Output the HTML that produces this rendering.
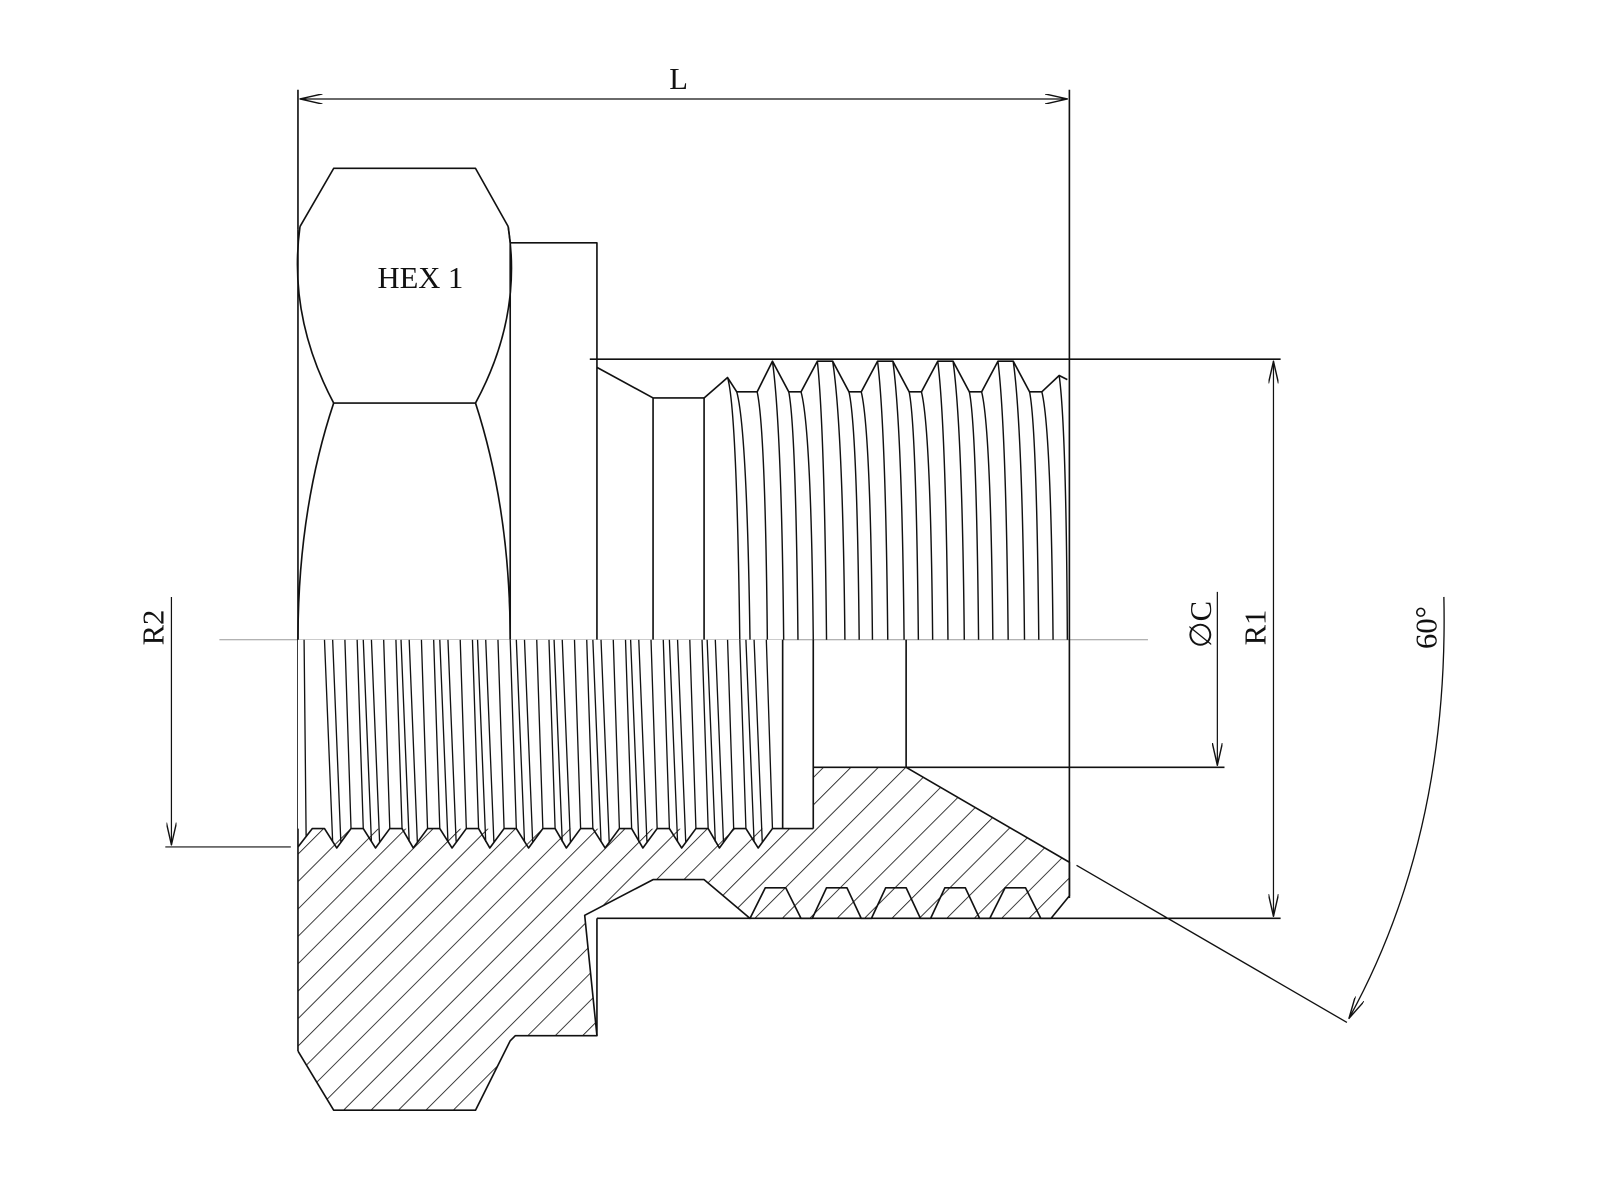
<!DOCTYPE html>
<html><head><meta charset="utf-8"><style>html,body{margin:0;padding:0;background:#fff}svg{display:block}</style></head>
<body>
<svg width="1600" height="1200" viewBox="0 0 1568 1176" xmlns="http://www.w3.org/2000/svg" font-family="'Liberation Serif', serif" fill="none" stroke="#111" stroke-width="1.6" stroke-linejoin="round">
<defs>
<pattern id="h" patternUnits="userSpaceOnUse" width="19" height="19" patternTransform="rotate(45)">
<line x1="0" y1="0" x2="0" y2="19" stroke="#111" stroke-width="1.6"/>
</pattern>
<marker id="a" markerWidth="24" markerHeight="10" refX="22" refY="5" orient="auto-start-reverse" markerUnits="userSpaceOnUse">
<path d="M0,0 L22,5 L0,10" fill="none" stroke="#111" stroke-width="1.4"/>
</marker>
</defs>

<line x1="215" y1="627" x2="1125" y2="627" stroke="#999" stroke-width="1"/>

<line x1="292" y1="88" x2="292" y2="225"/>
<line x1="1048" y1="88" x2="1048" y2="880"/>
<line x1="294" y1="97" x2="1046" y2="97" marker-start="url(#a)" marker-end="url(#a)" stroke-width="1.2"/>
<text x="665" y="87" font-size="30" fill="#111" stroke="none" text-anchor="middle">L</text>

<path d="M294,222 L327,165 L466,165 L498,222"/>
<path d="M294,222 Q282,310 327,395 L466,395 Q512,310 498,222"/>
<line x1="498" y1="222" x2="500" y2="238"/>
<path d="M327,395 Q292,500 292,627"/>
<path d="M466,395 Q500,500 500,627"/>
<line x1="292" y1="225" x2="292" y2="1030"/>
<text x="412" y="282" font-size="30" fill="#111" stroke="none" text-anchor="middle">HEX 1</text>

<path d="M500,627 L500,238 L585,238 L585,627"/>

<line x1="578" y1="352" x2="1255" y2="352"/>
<path d="M585,360 L640,390 L690,390 L690,627 M640,390 L640,627"/>
<path d="M690,390 L713,370 L722,384 L742,384 L757,354 L773,384 L785,384 L801,354 L816,354 L832,384 L844,384 L860,354 L875,354 L891,384 L903,384 L919,354 L934,354 L950,384 L962,384 L978,354 L993,354 L1009,384 L1021,384 L1038,368 L1046,372"/>
<g stroke-width="1.4">
<path d="M713,370 Q722,400 725,627"/><path d="M722,384 Q732,420 735,627"/><path d="M742,384 Q750,420 752,627"/>
<path d="M757,354 Q766,420 768,627"/><path d="M773,384 Q780,420 782,627"/><path d="M785,384 Q795,420 797,627"/>
<path d="M801,354 Q808,420 810,627"/><path d="M816,354 Q826,420 828,627"/><path d="M832,384 Q840,420 842,627"/><path d="M844,384 Q853,420 855,627"/>
<path d="M860,354 Q868,420 870,627"/><path d="M875,354 Q884,420 886,627"/><path d="M891,384 Q898,420 900,627"/><path d="M903,384 Q912,420 914,627"/>
<path d="M919,354 Q927,420 929,627"/><path d="M934,354 Q943,420 945,627"/><path d="M950,384 Q957,420 959,627"/><path d="M962,384 Q971,420 973,627"/>
<path d="M978,354 Q986,420 988,627"/><path d="M993,354 Q1002,420 1004,627"/><path d="M1009,384 Q1016,420 1018,627"/><path d="M1021,384 Q1030,420 1032,627"/>
<path d="M1038,368 Q1045,420 1046,627"/>
</g>

<path fill="url(#h)" stroke="none" d="M292,830 L306,812 L797,812 L797,752 L888,752 L1048,845 L1048,878 L1030,900 L735,900 L690,862 L640,862 L573,897 L585,1015 L505,1015 L500,1020 L466,1088 L327,1088 L292,1030 Z"/>
<path fill="#fff" stroke="none" d="M292,627 L767,627 L767,812 L292,812 Z"/>
<path d="M292,830 L306,812 L318,812 L330,831 L344,812 L356,812 L368,831 L382,812 L394,812 L405,831 L419,812 L431,812 L443,831 L457,812 L469,812 L480,831 L494,812 L506,812 L518,831 L532,812 L544,812 L555,831 L569,812 L581,812 L593,831 L607,812 L619,812 L630,831 L644,812 L656,812 L668,831 L682,812 L694,812 L705,831 L719,812 L731,812 L743,831 L757,812 L797,812"/>
<g stroke-width="1.3">
<path d="M300,820 L298,627 M326,825 L318,627 M334,825 L326,627 M344,812 L338,627 M356,812 L350,627
M364,825 L356,627 M372,825 L364,627 M382,812 L376,627 M394,812 L388,627
M401,825 L393,627 M409,825 L401,627 M419,812 L413,627 M431,812 L425,627
M439,825 L431,627 M447,825 L439,627 M457,812 L451,627 M469,812 L463,627
M476,825 L468,627 M484,825 L476,627 M494,812 L488,627 M506,812 L500,627
M514,825 L506,627 M522,825 L514,627 M532,812 L526,627 M544,812 L538,627
M551,825 L543,627 M559,825 L551,627 M569,812 L563,627 M581,812 L575,627
M589,825 L581,627 M597,825 L589,627 M607,812 L601,627 M619,812 L613,627
M626,825 L618,627 M634,825 L626,627 M644,812 L638,627 M656,812 L650,627
M664,825 L656,627 M672,825 L664,627 M682,812 L676,627 M694,812 L688,627
M701,825 L693,627 M709,825 L701,627 M719,812 L713,627 M731,812 L725,627
M739,825 L731,627 M747,825 L739,627 M757,812 L751,627"/>
</g>
<line x1="767" y1="627" x2="767" y2="812"/>
<path d="M797,627 L797,812 M888,627 L888,752 M797,752 L1200,752"/>
<path d="M888,752 L1048,845 L1048,878 L1030,900 L1020,900 L1005,870 L985,870 L970,900 L960,900 L946,870 L926,870 L912,900 L902,900 L888,870 L868,870 L854,900 L844,900 L830,870 L810,870 L796,900 L785,900 L770,870 L750,870 L735,900 L690,862 L640,862 L573,897 L585,1015 L505,1015 L500,1020 L466,1088 L327,1088 L292,1030"/>
<line x1="585" y1="900" x2="1255" y2="900"/>
<line x1="585" y1="900" x2="585" y2="1015"/>

<line x1="168" y1="585" x2="168" y2="828" marker-end="url(#a)" stroke-width="1.2"/>
<line x1="162" y1="830" x2="285" y2="830" stroke-width="1.2"/>
<text transform="translate(160,615) rotate(-90)" font-size="30" fill="#111" stroke="none" text-anchor="middle">R2</text>

<line x1="1193" y1="580" x2="1193" y2="750" marker-end="url(#a)" stroke-width="1.2"/>
<text transform="translate(1187,612) rotate(-90)" font-size="30" fill="#111" stroke="none" text-anchor="middle">∅C</text>

<line x1="1248" y1="354" x2="1248" y2="898" marker-start="url(#a)" marker-end="url(#a)" stroke-width="1.2"/>
<text transform="translate(1240,615) rotate(-90)" font-size="30" fill="#111" stroke="none" text-anchor="middle">R1</text>

<line x1="1055" y1="848" x2="1320" y2="1002" stroke-width="1.3"/>
<path d="M1415,585 Q1420,820 1322,998" marker-end="url(#a)" stroke-width="1.3"/>
<text transform="translate(1408,615) rotate(-90)" font-size="30" fill="#111" stroke="none" text-anchor="middle">60°</text>
</svg>
</body></html>
